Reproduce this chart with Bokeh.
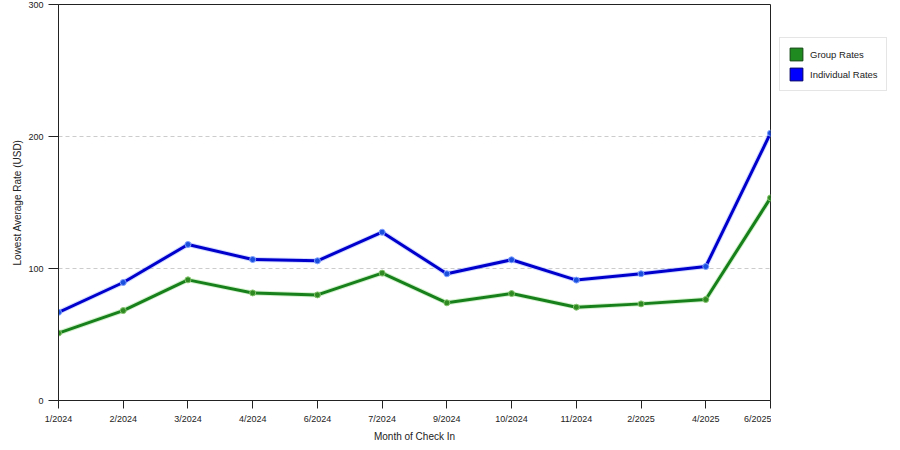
from bokeh.plotting import figure
from bokeh.layouts import row
from bokeh.models import Range1d, FixedTicker, Legend, LegendItem
from bokeh.embed import file_html
from bokeh.resources import INLINE

# data
months = ["1/2024", "2/2024", "3/2024", "4/2024", "6/2024", "7/2024",
          "9/2024", "10/2024", "11/2024", "2/2025", "4/2025", "6/2025"]
group_rates = [51.1, 68.1, 91.4, 81.5, 80.0, 96.5, 74.0, 81.0, 70.7, 73.2, 76.5, 153.5]
individual_rates = [66.8, 89.4, 118.2, 106.8, 105.8, 127.5, 96.0, 106.6, 91.2, 96.0, 101.5, 202.5]
y_ticks = [0, 100, 200, 300]

GREEN = "#17801a"
BLUE = "#0000cc"
FONT = "Liberation Sans"
TXT = "#222222"
NAN = float("nan")

x = list(range(len(months)))

p = figure(width=771, height=448, output_backend="svg", toolbar_location=None,
           x_range=Range1d(0, len(months) - 1), y_range=Range1d(0, 300),
           min_border_left=58, min_border_right=1, min_border_top=4, min_border_bottom=48)

p.outline_line_color = TXT
p.background_fill_color = "white"
p.border_fill_color = "white"

# axes
p.xaxis.ticker = FixedTicker(ticks=x)
p.xaxis.major_label_overrides = {i: m for i, m in enumerate(months)}
p.yaxis.ticker = FixedTicker(ticks=y_ticks)
for ax in (p.xaxis, p.yaxis):
    ax.axis_line_color = TXT
    ax.major_tick_line_color = TXT
    ax.minor_tick_line_color = None
    ax.major_tick_in = 0
    ax.major_label_text_font = FONT
    ax.major_label_text_font_size = "9px"
    ax.major_label_text_color = TXT
    ax.axis_label_text_font = FONT
    ax.axis_label_text_font_size = "10px"
    ax.axis_label_text_font_style = "normal"
    ax.axis_label_text_color = TXT
p.xaxis.major_tick_out = 8
p.yaxis.major_tick_out = 10
p.xaxis.axis_label = "Month of Check In"
p.yaxis.axis_label = "Lowest Average Rate (USD)"
p.xaxis.axis_label_standoff = 4
p.yaxis.axis_label_standoff = 2

p.xgrid.visible = False
p.ygrid.ticker = FixedTicker(ticks=[100, 200])
p.ygrid.grid_line_color = "#cccccc"
p.ygrid.grid_line_dash = "4 3"

# lines with a soft halo
p.line(x, group_rates, line_color="#6ccf5a", line_width=5, line_alpha=0.3)
p.line(x, individual_rates, line_color="#6f8cff", line_width=5, line_alpha=0.3)
p.line(x, group_rates, line_color=GREEN, line_width=3)
p.line(x, individual_rates, line_color=BLUE, line_width=3)
p.scatter(x, group_rates, size=6, fill_color="#2f8a22", line_color="#86c46f", line_width=1)
p.scatter(x, individual_rates, size=6, fill_color="#1a50dd", line_color="#7f9fff", line_width=1)

# legend lives in a narrow side figure so it is not clipped by the plot frame
lf = figure(width=121, height=448, output_backend="svg", toolbar_location=None,
            x_range=Range1d(0, 1), y_range=Range1d(0, 1), min_border=0)
lf.axis.visible = False
lf.grid.visible = False
lf.outline_line_color = None

g_sw = lf.quad(left=[NAN], right=[NAN], top=[NAN], bottom=[NAN],
               fill_color="#1f8a1f", line_color="#114411")
b_sw = lf.quad(left=[NAN], right=[NAN], top=[NAN], bottom=[NAN],
               fill_color="#0000ff", line_color="#000066")

legend = Legend(items=[LegendItem(label="Group Rates", renderers=[g_sw], index=0),
                       LegendItem(label="Individual Rates", renderers=[b_sw], index=0)],
                location=(8, 309), orientation="vertical",
                glyph_width=16, glyph_height=16, label_height=16,
                spacing=4, padding=8, margin=0, label_standoff=6,
                label_text_font=FONT, label_text_font_size="9.5px", label_text_color=TXT,
                border_line_color="#cccccc", background_fill_color="white")
lf.add_layout(legend, "center")

layout = row(p, lf)
open("out.html", "w").write(file_html(layout, INLINE))
